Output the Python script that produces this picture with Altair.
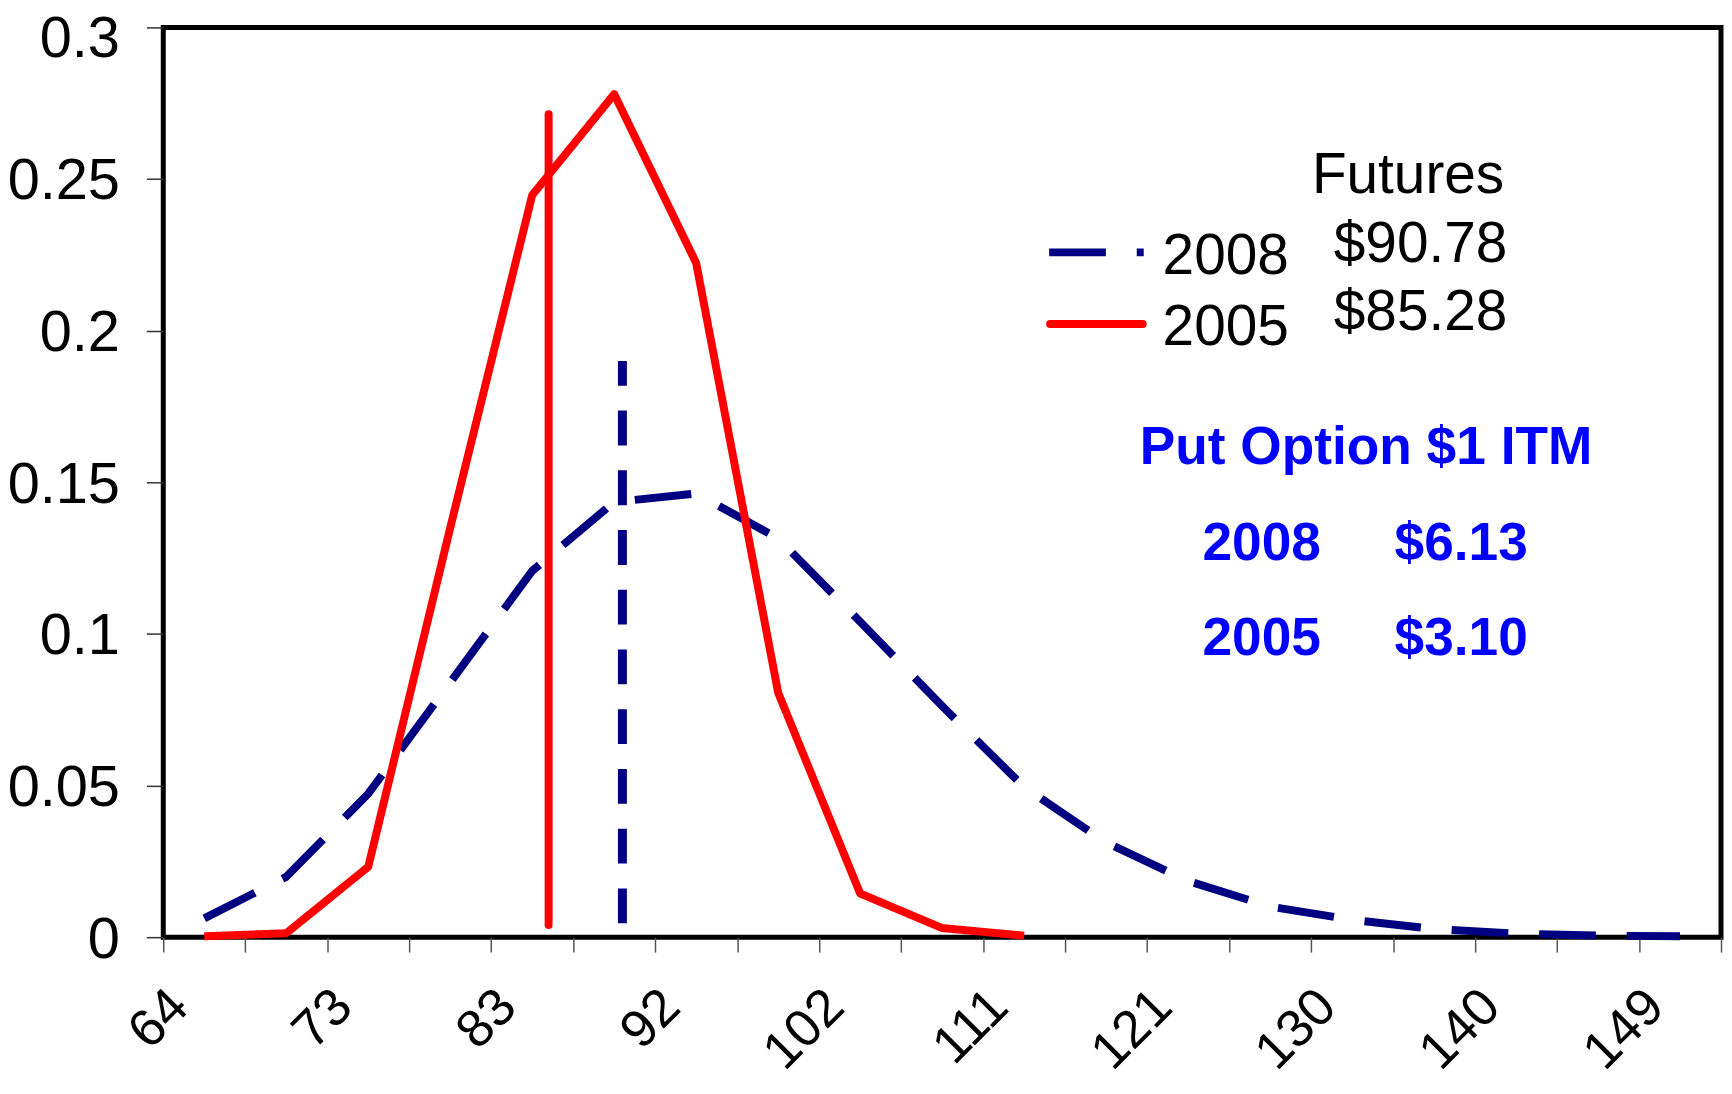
import altair as alt
import pandas as pd

# ---- data ----
tick_labels = ["64", "", "73", "", "83", "", "92", "", "102", "", "111", "", "121", "", "130", "", "140", "", "149", ""]
y_ticks = [0, 0.05, 0.1, 0.15, 0.2, 0.25, 0.3]

series_names = ["2008", "2005"]
series_colors = ["#000080", "#FF0000"]

blue_2008 = [0.0062, 0.0199, 0.0473, 0.084, 0.1208, 0.1435, 0.1463, 0.1315, 0.104, 0.0762,
             0.0495, 0.0312, 0.0185, 0.0101, 0.0057, 0.0027, 0.0012, 0.0005, 0.0003]
red_2005 = [0.0003, 0.0013, 0.0232, 0.135, 0.2447, 0.278, 0.2223, 0.0806, 0.0144, 0.003, 0.0005]

# futures markers (position on category axis, bottom, top)
fut_2008 = {"x": 5.6, "y0": 0.0046, "y1": 0.190}
fut_2005 = {"x": 4.7, "y0": 0.004, "y1": 0.2714}

futures_head = "Futures"
futures_vals = ["$90.78", "$85.28"]
put_title = "Put Option $1 ITM"
put_rows = [("2008", "$6.13"), ("2005", "$3.10")]

FONT = "Liberation Sans"
BLUE_TXT = "#0000FF"

rows = []
for i, v in enumerate(blue_2008):
    rows.append({"series": "2008", "x": i + 0.5, "y": v})
for i, v in enumerate(red_2005):
    rows.append({"series": "2005", "x": i + 0.5, "y": v})
curves = pd.DataFrame(rows)

label_js = "[" + ",".join("'" + t + "'" for t in tick_labels) + "]"

xscale = alt.Scale(domain=[0, 19], nice=False, zero=False)
yscale = alt.Scale(domain=[0, 0.3], nice=False)

xaxis = alt.Axis(
    values=list(range(20)), labelExpr=label_js + "[datum.value]", title=None,
    grid=False, domain=False, ticks=True, tickSize=15, tickColor="#555555", tickWidth=1.5,
    labelAngle=315, labelAlign="right", labelBaseline="middle", labelPadding=46,
    labelOffset=16, labelFontSize=53, labelFont=FONT, labelColor="black",
    labelOverlap=False, labelBound=False, labelFlush=False,
)
yaxis = alt.Axis(
    values=y_ticks, format="~g", title=None, grid=False, domain=False,
    tickSize=17, tickColor="#333333", tickWidth=1.5, labelPadding=27,
    labelFontSize=58, labelFont=FONT, labelColor="black", labelBaseline="middle",
    labelOffset={"condition": {"test": "datum.value >= 0.29", "value": 12}, "value": 3},
    labelOverlap=False, labelBound=False, labelFlush=False,
)

color_scale = alt.Scale(domain=series_names, range=series_colors)

lines = alt.Chart(curves).mark_line(strokeWidth=8, strokeJoin="round").encode(
    x=alt.X("x:Q", scale=xscale, axis=xaxis),
    y=alt.Y("y:Q", scale=yscale, axis=yaxis),
    color=alt.Color("series:N", scale=color_scale, legend=None),
    strokeDash=alt.StrokeDash("series:N", scale=alt.Scale(domain=series_names, range=[[57, 31], [1, 0]]), legend=None),
    order=alt.Order("x:Q"),
)

rule_b = alt.Chart(pd.DataFrame([fut_2008])).mark_rule(color="#000080", strokeWidth=9, strokeDash=[35, 25]).encode(
    x=alt.X("x:Q", scale=xscale), y=alt.Y("y0:Q", scale=yscale), y2="y1:Q")
rule_r = alt.Chart(pd.DataFrame([fut_2005])).mark_rule(color="#FF0000", strokeWidth=8, strokeCap="round").encode(
    x=alt.X("x:Q", scale=xscale), y=alt.Y("y0:Q", scale=yscale), y2="y1:Q")


def label(text, x, y, size=57, color="black", bold=False):
    return alt.Chart(pd.DataFrame({"t": [text]})).mark_text(
        align="left", baseline="alphabetic", font=FONT, fontSize=size,
        fontWeight="bold" if bold else "normal", color=color,
    ).encode(text="t:N", x=alt.value(x), y=alt.value(y))


def key_line(color, x1, x2, y, dash=None, cap="butt"):
    kw = dict(color=color, strokeWidth=8, strokeCap=cap)
    if dash:
        kw["strokeDash"] = dash
    return alt.Chart(pd.DataFrame({"k": [0]})).mark_rule(**kw).encode(
        x=alt.value(x1), x2=alt.value(x2), y=alt.value(y))


legend_parts = [
    key_line(series_colors[0], 890, 985, 226, dash=[57, 31]),
    key_line(series_colors[1], 891, 984, 298, cap="round"),
    label(series_names[0], 1004, 248),
    label(series_names[1], 1004, 319),
]

texts = [
    label(futures_head, 1154, 166),
    label(futures_vals[0], 1176, 236),
    label(futures_vals[1], 1176, 304),
    label(put_title, 981, 439, 53.5, BLUE_TXT, True),
    label(put_rows[0][0], 1044, 535, 53.5, BLUE_TXT, True),
    label(put_rows[0][1], 1237, 535, 53.5, BLUE_TXT, True),
    label(put_rows[1][0], 1044, 631, 53.5, BLUE_TXT, True),
    label(put_rows[1][1], 1237, 631, 53.5, BLUE_TXT, True),
]

chart = alt.layer(lines, rule_r, rule_b, *legend_parts, *texts).properties(
    width=1565, height=914,
    background="white",
    autosize=alt.AutoSizeParams(type="none"),
    padding={"left": 156, "top": 17, "right": 3, "bottom": 143},
).configure_view(stroke="black", strokeWidth=5)

chart.save("out.html", embed_options={"renderer": "svg", "actions": False})
